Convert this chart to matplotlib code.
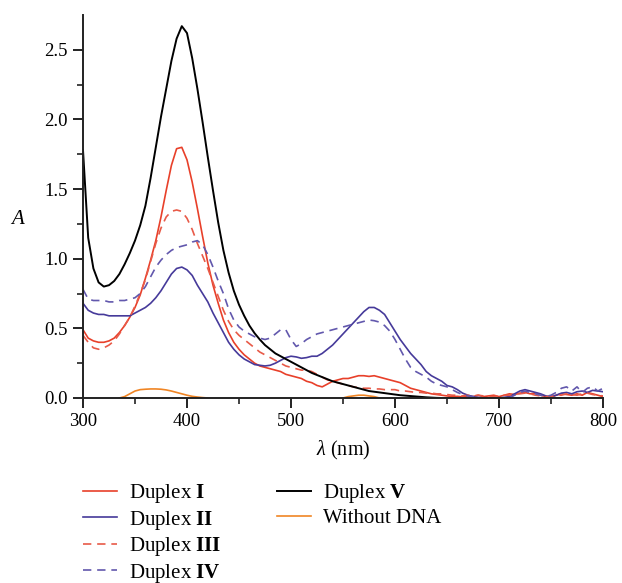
import numpy as np
import matplotlib
matplotlib.use("Agg")
import matplotlib.pyplot as plt

plt.rcParams['font.family'] = ['Liberation Serif', 'DejaVu Serif']
plt.rcParams['mathtext.fontset'] = 'custom'
plt.rcParams['mathtext.rm'] = 'Liberation Serif'
plt.rcParams['mathtext.it'] = 'Liberation Serif:italic'
plt.rcParams['mathtext.bf'] = 'Liberation Serif:bold'

wavelength = np.arange(300, 801, 5)

duplex_V = [1.78, 1.15, 0.93, 0.83, 0.80, 0.81, 0.84, 0.89, 0.96, 1.04,
            1.13, 1.24, 1.38, 1.58, 1.80, 2.02, 2.22, 2.42, 2.58, 2.67,
            2.62, 2.44, 2.22, 1.98, 1.73, 1.49, 1.26, 1.06, 0.90, 0.77,
            0.67, 0.59, 0.52, 0.465, 0.42, 0.38, 0.35, 0.32, 0.30, 0.28,
            0.26, 0.24, 0.22, 0.20, 0.18, 0.165, 0.15, 0.135, 0.12, 0.11,
            0.10, 0.09, 0.08, 0.07, 0.06, 0.05, 0.045, 0.04, 0.035, 0.03,
            0.025, 0.02, 0.017, 0.014, 0.011, 0.008, 0.005, 0.003, 0.001] + [0.0] * 32

duplex_I = [0.49, 0.43, 0.41, 0.40, 0.40, 0.41, 0.43, 0.47, 0.52, 0.58,
            0.65, 0.74, 0.86, 0.99, 1.13, 1.30, 1.49, 1.67, 1.79, 1.80,
            1.71, 1.55, 1.36, 1.16, 0.97, 0.81, 0.68, 0.56, 0.47, 0.40,
            0.35, 0.31, 0.28, 0.25, 0.23, 0.22, 0.21, 0.20, 0.19, 0.17,
            0.16, 0.15, 0.14, 0.12, 0.11, 0.09, 0.08, 0.10, 0.12, 0.13,
            0.14, 0.14, 0.15, 0.16, 0.16, 0.155, 0.16, 0.15, 0.14, 0.13,
            0.12, 0.11, 0.09, 0.07, 0.06, 0.05, 0.04, 0.03, 0.025, 0.02,
            0.015, 0.01, 0.012, 0.008, 0.015, 0.01, 0.02, 0.01, 0.015, 0.02,
            0.01, 0.02, 0.03, 0.025, 0.035, 0.04, 0.03, 0.035, 0.02, 0.01,
            0.005, 0.02, 0.03, 0.025, 0.02, 0.03, 0.02, 0.04, 0.03, 0.02,
            0.01]

duplex_III = [0.45, 0.40, 0.36, 0.35, 0.36, 0.38, 0.41, 0.46, 0.52, 0.58,
              0.66, 0.75, 0.85, 0.98, 1.11, 1.22, 1.30, 1.34, 1.35, 1.34,
              1.29, 1.21, 1.11, 1.02, 0.93, 0.83, 0.73, 0.63, 0.55, 0.49,
              0.45, 0.42, 0.39, 0.36, 0.33, 0.31, 0.29, 0.27, 0.25, 0.23,
              0.22, 0.21, 0.20, 0.20, 0.19, 0.17, 0.15, 0.13, 0.12, 0.11,
              0.10, 0.09, 0.08, 0.075, 0.07, 0.07, 0.065, 0.065, 0.06, 0.06,
              0.06, 0.05, 0.05, 0.045, 0.04, 0.04, 0.035, 0.035, 0.03, 0.03,
              0.025, 0.02, 0.02, 0.015, 0.02, 0.015, 0.02, 0.015, 0.01, 0.01,
              0.015, 0.02, 0.02, 0.03, 0.03, 0.035, 0.03, 0.02, 0.015, 0.01,
              0.01, 0.02, 0.02, 0.03, 0.025, 0.02, 0.03, 0.035, 0.025, 0.02,
              0.015]

duplex_II = [0.68, 0.63, 0.61, 0.60, 0.60, 0.59, 0.59, 0.59, 0.59, 0.59,
             0.61, 0.63, 0.65, 0.68, 0.72, 0.77, 0.83, 0.89, 0.93, 0.94,
             0.92, 0.88, 0.81, 0.75, 0.69, 0.61, 0.54, 0.47, 0.40, 0.35,
             0.31, 0.28, 0.26, 0.24, 0.235, 0.23, 0.235, 0.25, 0.27, 0.29,
             0.30, 0.295, 0.285, 0.29, 0.30, 0.30, 0.32, 0.35, 0.38, 0.42,
             0.46, 0.50, 0.54, 0.58, 0.62, 0.65, 0.65, 0.63, 0.60, 0.54,
             0.48, 0.42, 0.37, 0.32, 0.28, 0.24, 0.19, 0.16, 0.14, 0.12,
             0.09, 0.08, 0.06, 0.035, 0.02, 0.01, 0.005, 0.0, 0.0, 0.0,
             0.0, 0.005, 0.01, 0.03, 0.05, 0.06, 0.05, 0.04, 0.03, 0.015,
             0.01, 0.02, 0.035, 0.04, 0.03, 0.045, 0.05, 0.04, 0.055, 0.05,
             0.045]

duplex_IV = [0.78, 0.71, 0.70, 0.70, 0.70, 0.69, 0.69, 0.70, 0.70, 0.71,
             0.72, 0.75, 0.80, 0.87, 0.94, 0.99, 1.03, 1.06, 1.08, 1.09,
             1.10, 1.12, 1.13, 1.10, 1.03, 0.94, 0.84, 0.75, 0.64, 0.56,
             0.51, 0.48, 0.46, 0.44, 0.43, 0.42, 0.43, 0.46, 0.49, 0.49,
             0.42, 0.37, 0.39, 0.42, 0.44, 0.46, 0.47, 0.48, 0.49, 0.50,
             0.51, 0.52, 0.53, 0.54, 0.55, 0.56, 0.555, 0.545, 0.52, 0.48,
             0.42, 0.35, 0.28, 0.22, 0.19, 0.17, 0.15, 0.12, 0.10, 0.09,
             0.08, 0.06, 0.04, 0.025, 0.015, 0.01, 0.005, 0.0, 0.0, 0.0,
             0.0, 0.0, 0.0, 0.02, 0.04, 0.05, 0.04, 0.03, 0.02, 0.01,
             0.02, 0.04, 0.07, 0.08, 0.05, 0.08, 0.04, 0.07, 0.08, 0.05,
             0.07]

without_DNA = [-0.03] * 7 + [
               0.0, 0.01, 0.03, 0.05, 0.06, 0.063, 0.065, 0.065, 0.063, 0.058,
               0.05, 0.04, 0.03, 0.02, 0.012, 0.007, 0.003, 0.0] + [-0.03] * 25 + [
               0.0, 0.01, 0.015, 0.02, 0.02, 0.015, 0.01, 0.0] + [-0.03] * 43

labels = ["Duplex $\\mathbf{I}$", "Duplex $\\mathbf{II}$", "Duplex $\\mathbf{III}$",
          "Duplex $\\mathbf{IV}$", "Duplex $\\mathbf{V}$", "Without DNA"]

c_red = "#e8402a"
c_blue = "#463a9a"
c_red_d = "#e85a48"
c_blue_d = "#6258ad"
c_orange = "#f08524"

fig = plt.figure(figsize=(6.22, 5.83), dpi=100)
ax = fig.add_axes([83 / 622, 1 - 398 / 583, 520 / 622, 383 / 583])

dash = (0, (5, 3.5))
l1, = ax.plot(wavelength, duplex_I, color=c_red, lw=1.2)
l2, = ax.plot(wavelength, duplex_II, color=c_blue, lw=1.2)
l3, = ax.plot(wavelength, duplex_III, color=c_red_d, lw=1.2, linestyle=dash)
l4, = ax.plot(wavelength, duplex_IV, color=c_blue_d, lw=1.2, linestyle=dash)
l6, = ax.plot(wavelength, without_DNA, color=c_orange, lw=1.2)
l5, = ax.plot(wavelength, duplex_V, color="black", lw=1.4)

ax.set_xlim(300, 800)
ax.set_ylim(0, 2.75)
ax.set_xticks([300, 400, 500, 600, 700, 800])
ax.set_xticks([350, 450, 550, 650, 750], minor=True)
ax.set_yticks([0.0, 0.5, 1.0, 1.5, 2.0, 2.5])
ax.set_yticklabels(["0.0", "0.5", "1.0", "1.5", "2.0", "2.5"])
ax.set_yticks([0.25, 0.75, 1.25, 1.75, 2.25], minor=True)

for s in ["top", "right"]:
    ax.spines[s].set_visible(False)
for s in ["left", "bottom"]:
    ax.spines[s].set_linewidth(1.4)
    ax.spines[s].set_color("#222222")

ax.tick_params(which="major", direction="out", length=7, width=1.4, labelsize=13.5, pad=4, color="#222222")
ax.tick_params(which="minor", direction="out", length=4, width=1.2, color="#222222")

ax.set_xlabel("$\\mathit{\\lambda}$ (nm)", fontsize=14.5, labelpad=6)
fig.text(18 / 622, 1 - 220 / 583, "$\\mathit{A}$", fontsize=15, ha="center", va="center")

leg_kw = dict(loc="upper left", frameon=False, fontsize=15, handlelength=1.63,
              handletextpad=0.58, labelspacing=0.17, borderpad=0, borderaxespad=0)
leg1 = fig.legend([l1, l2, l3, l4], labels[:4],
                  bbox_to_anchor=(83 / 622, 1 - 482 / 583), **leg_kw)
leg2 = fig.legend([l5, l6], labels[4:],
                  bbox_to_anchor=(277 / 622, 1 - 482 / 583), **leg_kw)

fig.savefig("out.png", dpi=100)
